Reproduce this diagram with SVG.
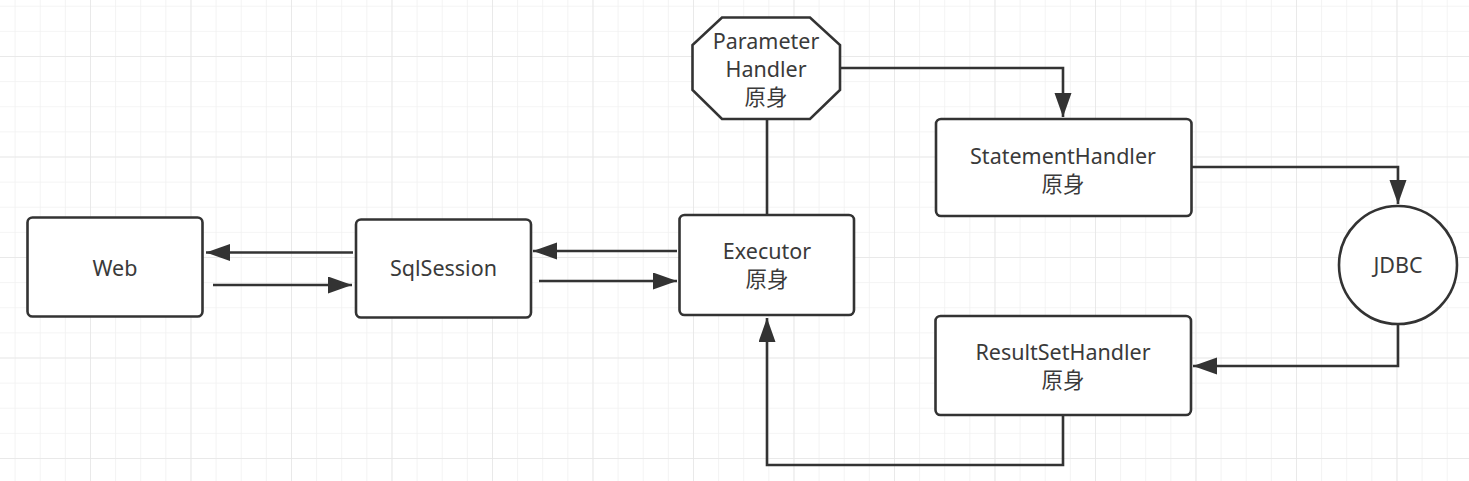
<svg xmlns="http://www.w3.org/2000/svg" width="1469" height="481" viewBox="0 0 1469 481">
<style>
.node{fill:#fff;stroke:#333;stroke-width:2.6}
.lbl{font-family:"Noto Sans","Noto Sans CJK SC",sans-serif;font-size:21.5px;fill:#3a3a3a;text-anchor:middle}
.edge{fill:none;stroke:#333;stroke-width:2.6}
</style>
<defs>
<pattern id="minor" patternUnits="userSpaceOnUse" x="14.6" y="5.75" width="25.125" height="25.125">
<path d="M0,0V25.125M0,0H25.125" fill="none" stroke="#f1f1f1" stroke-width="1.6"/>
</pattern>
<pattern id="major" patternUnits="userSpaceOnUse" x="90" y="56" width="100.5" height="100.5">
<path d="M0,0V100.5M0,0H100.5" fill="none" stroke="#e6e6e6" stroke-width="1.6"/>
</pattern>
<marker id="arr" markerUnits="userSpaceOnUse" markerWidth="26" markerHeight="18" refX="24" refY="8.5" orient="auto">
<path d="M0,0L24,8.5L0,17z" fill="#333"/>
</marker>
</defs>
<rect width="1469" height="481" fill="#fff"/>
<rect width="1469" height="481" fill="url(#minor)"/>
<rect width="1469" height="481" fill="url(#major)"/>
<g id="connectors">
<path class="edge" d="M353,252.5H206" marker-end="url(#arr)"/>
<path class="edge" d="M213,285H352" marker-end="url(#arr)"/>
<path class="edge" d="M677,251H533" marker-end="url(#arr)"/>
<path class="edge" d="M539,281H677" marker-end="url(#arr)"/>
<path class="edge" d="M767,119V215"/>
<path class="edge" d="M840,68H1063V117" marker-end="url(#arr)"/>
<path class="edge" d="M1192,167H1398V204" marker-end="url(#arr)"/>
<path class="edge" d="M1398,324V366H1193" marker-end="url(#arr)"/>
<path class="edge" d="M1063,416V465H767V318" marker-end="url(#arr)"/>
</g>
<g id="web">
<rect class="node" x="27.5" y="217.5" width="175" height="99" rx="5"/>
<text class="lbl" x="115" y="275.5">Web</text>
</g>
<g id="sqlsession">
<rect class="node" x="356" y="219.5" width="175" height="98" rx="5"/>
<text class="lbl" x="443.5" y="276">SqlSession</text>
</g>
<g id="executor">
<rect class="node" x="679.5" y="215" width="174.5" height="100" rx="5"/>
<text class="lbl" x="767" y="259">Executor</text>
<text class="lbl" x="767" y="287">原身</text>
</g>
<g id="parameterhandler">
<polygon class="node" points="722,17.5 810,17.5 840,45 840,90 810,119 722,119 692.5,90 692.5,45"/>
<text class="lbl" x="766" y="49">Parameter</text>
<text class="lbl" x="766" y="77">Handler</text>
<text class="lbl" x="766" y="105">原身</text>
</g>
<g id="statementhandler">
<rect class="node" x="936" y="119" width="255.5" height="97" rx="5"/>
<text class="lbl" x="1063" y="164">StatementHandler</text>
<text class="lbl" x="1063" y="192">原身</text>
</g>
<g id="jdbc">
<circle class="node" cx="1398" cy="265" r="59"/>
<text class="lbl" x="1398" y="272.5">JDBC</text>
</g>
<g id="resultsethandler">
<rect class="node" x="935.5" y="316" width="255.5" height="99" rx="5"/>
<text class="lbl" x="1063" y="360">ResultSetHandler</text>
<text class="lbl" x="1063" y="388">原身</text>
</g>
</svg>
